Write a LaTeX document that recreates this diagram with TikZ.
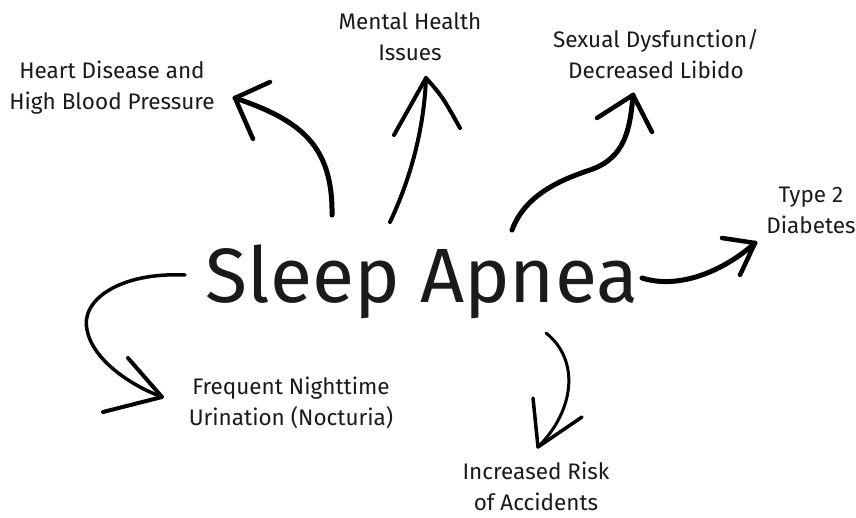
\documentclass[tikz,border=0pt]{standalone}
\usepackage{fontspec}
\setmainfont{Fira Sans}
\definecolor{ink}{HTML}{1A1A1A}
\tikzset{
  lbl/.style={align=center, text=ink, font=\fontsize{22.5}{31}\selectfont, inner sep=0pt},
  big/.style={text=ink, font=\fontsize{77}{90}\selectfont, inner sep=0pt},
  shaft/.style={draw=black, line width=4.5pt, line cap=round, line join=round},
  barb/.style={draw=black, line width=4.5pt, line cap=round, line join=round}
}
\begin{document}
\begin{tikzpicture}[x=1pt,y=-1pt]
\useasboundingbox (0,0) rectangle (856,517);
% labels
\node[big, anchor=base] (sa) at (422,302) {Sleep Apnea};
\node[lbl] (heart) at (112,88) {Heart Disease and\\High Blood Pressure};
\node[lbl] (mental) at (410,37) {Mental Health\\Issues};
\node[lbl] (sexual) at (656,54) {Sexual Dysfunction/\\Decreased Libido};
\node[lbl] (diab) at (811,210) {Type 2\\Diabetes};
\node[lbl] (noct) at (291,403) {Frequent Nighttime\\Urination (Nocturia)};
\node[lbl] (acc) at (536,486) {Increased Risk\\of Accidents};
% arrow coordinates
\coordinate (t1) at (332,215); \coordinate (p1) at (235,98);
\coordinate (a1) at (270,82); \coordinate (b1) at (253,139);
\coordinate (t2) at (390,222); \coordinate (p2) at (426,78);
\coordinate (a2) at (394,135); \coordinate (b2) at (460,128);
\coordinate (t3) at (512,230); \coordinate (m3) at (590,170); \coordinate (p3) at (633,95);
\coordinate (a3) at (597,118); \coordinate (b3) at (652,132);
\coordinate (t4) at (642,278); \coordinate (p4) at (755,243);
\coordinate (a4) at (722,238); \coordinate (b4) at (740,275);
\coordinate (t5) at (185,275); \coordinate (m5) at (87,330); \coordinate (p5) at (162,397);
\coordinate (a5) at (128,358); \coordinate (b5) at (103,412);
\coordinate (t6) at (546,333); \coordinate (p6) at (538,447);
\coordinate (a6) at (533,398); \coordinate (b6) at (582,417);
% heart
\draw[shaft, line width=5pt] (t1) .. controls (333,145) and (300,120) .. (p1);
\draw[barb, line width=4.5pt] (a1) -- (p1) -- (b1);
% mental
\draw[shaft, line width=4pt] (t2) .. controls (410,180) and (424,130) .. (p2);
\draw[barb, line width=4pt] (a2) -- (p2) .. controls (442,96) .. (b2);
% sexual
\draw[shaft, line width=5pt] (t3) .. controls (525,195) and (560,180) .. (m3) .. controls (625,158) and (630,130) .. (p3);
\draw[barb, line width=4.5pt] (a3) -- (p3) -- (b3);
% diabetes
\draw[shaft, line width=5pt] (t4) .. controls (680,290) and (725,270) .. (p4);
\draw[barb, line width=4.5pt] (a4) -- (p4) -- (b4);
% nocturia
\draw[shaft, line width=3.5pt] (t5) .. controls (120,272) and (80,300) .. (m5) .. controls (93,360) and (130,385) .. (p5);
\draw[barb, line width=4pt] (a5) -- (p5) -- (b5);
% accidents
\draw[shaft, line width=3pt] (t6) .. controls (580,360) and (575,410) .. (p6);
\draw[barb, line width=3.5pt] (a6) -- (p6) -- (b6);
\end{tikzpicture}
\end{document}
